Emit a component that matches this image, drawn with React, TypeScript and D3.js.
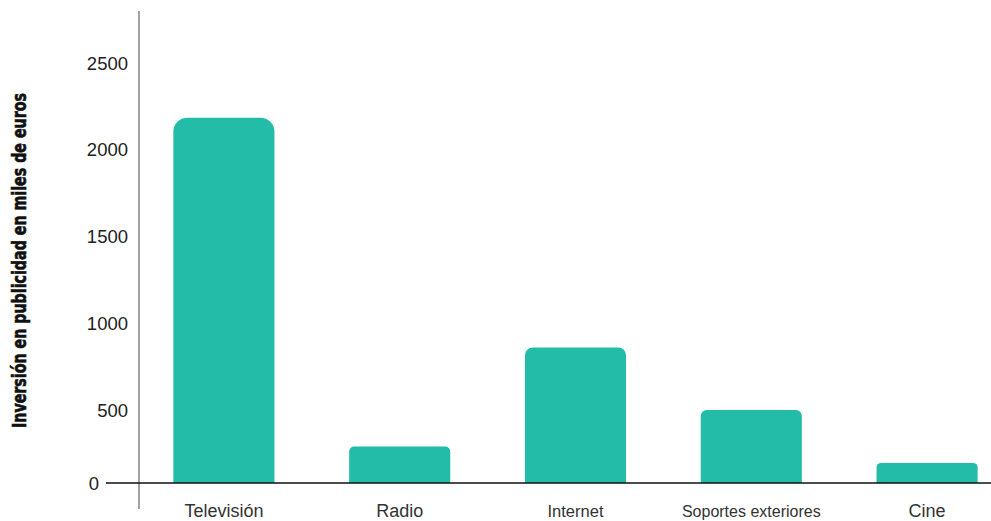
import React from "react";
import * as d3 from "d3";

const categories = ["Televisión", "Radio", "Internet", "Soportes exteriores", "Cine"];
const values = [2185, 290, 860, 500, 195];
const tickValues = [500, 1000, 1500, 2000, 2500];
const yLabel = "Inversión en publicidad en miles de euros";

const W = 991;
const H = 521;
const baselineY = 483;

export default function App() {
  const x = d3
    .scaleBand<string>()
    .domain(categories)
    .range([136, 1015])
    .paddingInner(0.425)
    .paddingOuter(0.2125);
  const y = d3.scaleLinear().domain([0, 2500]).range([496.75, 63]);

  const barPath = (x0: number, w: number, top: number, bottom: number) => {
    const h = bottom - top;
    const r = Math.min(14, 4 + h / 36, h, w / 2);
    const p = d3.path();
    p.moveTo(x0, bottom);
    p.lineTo(x0, top + r);
    p.arcTo(x0, top, x0 + r, top, r);
    p.lineTo(x0 + w - r, top);
    p.arcTo(x0 + w, top, x0 + w, top + r, r);
    p.lineTo(x0 + w, bottom);
    p.closePath();
    return p.toString();
  };

  const labelSize = (c: string) => (c.length > 12 ? 16 : c === "Internet" ? 16.5 : 18);

  return (
    <svg
      width={W}
      height={H}
      style={{ position: "absolute", left: 0, top: 0, display: "block" }}
      fontFamily="'Liberation Sans', Arial, sans-serif"
    >
      <rect width={W} height={H} fill="#ffffff" />
      {categories.map((c, i) => (
        <path
          key={c}
          d={barPath(x(c)!, x.bandwidth(), y(values[i]), baselineY)}
          fill="#23bca8"
        />
      ))}
      <line x1={139} x2={139} y1={11} y2={509} stroke="#8a8a8a" strokeWidth={1.6} />
      <line x1={106} x2={W} y1={baselineY} y2={baselineY} stroke="#111" strokeWidth={1.5} />
      {tickValues.map((t) => (
        <text
          key={t}
          x={128}
          y={y(t)}
          dy="0.36em"
          textAnchor="end"
          fontSize={18.5}
          fill="#222"
        >
          {t}
        </text>
      ))}
      <text x={99} y={baselineY} dy="0.36em" textAnchor="end" fontSize={18.5} fill="#222">
        0
      </text>
      {categories.map((c) => (
        <text
          key={c}
          x={x(c)! + x.bandwidth() / 2}
          y={511}
          dy="0.36em"
          textAnchor="middle"
          fontSize={labelSize(c)}
          fill="#333"
        >
          {c}
        </text>
      ))}
      <text
        transform="translate(19,260.5) rotate(-90)"
        x={0}
        y={0}
        textAnchor="middle"
        dy="0.36em"
        textLength={335}
        lengthAdjust="spacingAndGlyphs"
        fontFamily="'Liberation Sans Narrow', 'DejaVu Sans Condensed', sans-serif"
        fontWeight="bold"
        fontSize={19}
        fill="#111"
        stroke="#111"
        strokeWidth={0.6}
      >
        {yLabel}
      </text>
    </svg>
  );
}
